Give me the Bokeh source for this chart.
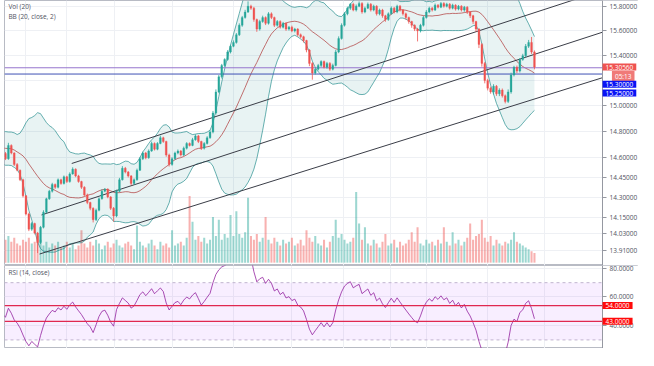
import numpy as np
from bokeh.plotting import figure
from bokeh.layouts import column
from bokeh.models import Range1d, FixedTicker, PrintfTickFormatter, Label, LinearScale
from bokeh.embed import file_html
from bokeh.resources import INLINE

# ---------------- data ----------------
hist_close = [14.68, 14.72, 14.66, 14.75, 14.79, 14.71, 14.64, 14.69, 14.77, 14.73,
              14.67, 14.58, 14.63, 14.72, 14.68, 14.61, 14.55, 14.60, 14.67, 14.63]
first_open = 14.630
close = [
    14.590, 14.692, 14.634, 14.547, 14.503, 14.431, 14.310, 14.175, 14.063, 14.105,
    14.035, 13.965, 14.077, 14.189, 14.288, 14.345, 14.396, 14.374, 14.431, 14.403,
    14.453, 14.417, 14.475, 14.511, 14.460, 14.417, 14.374, 14.317, 14.260, 14.217,
    14.133, 14.203, 14.288, 14.345, 14.359, 14.302, 14.217, 14.161, 14.345, 14.431,
    14.518, 14.489, 14.460, 14.403, 14.431, 14.503, 14.590, 14.634, 14.598, 14.649,
    14.707, 14.663, 14.707, 14.751, 14.722, 14.619, 14.547, 14.590, 14.634, 14.649,
    14.619, 14.671, 14.707, 14.692, 14.736, 14.765, 14.722, 14.671, 14.707, 14.751,
    14.795, 14.943, 15.108, 15.228, 15.319, 15.366, 15.427, 15.473, 15.504, 15.566,
    15.643, 15.706, 15.752, 15.800, 15.784, 15.690, 15.612, 15.674, 15.706, 15.659,
    15.737, 15.706, 15.643, 15.674, 15.628, 15.659, 15.612, 15.628, 15.597, 15.612,
    15.566, 15.550, 15.519, 15.442, 15.335, 15.258, 15.289, 15.319, 15.350, 15.304,
    15.335, 15.289, 15.319, 15.427, 15.535, 15.643, 15.737, 15.784, 15.816, 15.768,
    15.800, 15.823, 15.752, 15.784, 15.816, 15.768, 15.800, 15.737, 15.768, 15.721,
    15.690, 15.737, 15.784, 15.752, 15.800, 15.768, 15.737, 15.706, 15.674, 15.643,
    15.612, 15.597, 15.643, 15.706, 15.752, 15.784, 15.768, 15.808, 15.792, 15.823,
    15.800, 15.816, 15.784, 15.808, 15.776, 15.800, 15.768, 15.792, 15.752, 15.721,
    15.674, 15.612, 15.488, 15.335, 15.198, 15.138, 15.108, 15.153, 15.093, 15.123,
    15.078, 15.033, 15.108, 15.243, 15.304, 15.274, 15.366, 15.396, 15.473, 15.504,
    15.427, 15.3056,
]
# wick lengths above / below the body, in thousandths of a lira
wick_up = [
    12, 20, 8, 6, 10, 5, 8, 6, 10, 12, 6, 8, 10, 14, 8, 10, 12, 6, 10, 8,
    10, 8, 12, 14, 6, 8, 6, 8, 10, 6, 8, 12, 10, 14, 10, 8, 6, 10, 12, 14,
    16, 10, 8, 6, 10, 12, 14, 10, 8, 12, 14, 8, 10, 16, 8, 6, 10, 12, 10, 12,
    8, 12, 10, 8, 14, 12, 8, 6, 10, 12, 14, 16, 20, 14, 12, 10, 14, 12, 16, 14,
    16, 14, 18, 40, 12, 10, 8, 14, 16, 10, 14, 12, 8, 12, 10, 12, 8, 10, 12, 10,
    8, 10, 8, 6, 8, 10, 14, 12, 10, 8, 12, 10, 14, 16, 18, 16, 14, 12, 10, 12,
    14, 16, 10, 12, 14, 10, 12, 8, 12, 10, 8, 12, 14, 10, 12, 10, 8, 10, 8, 6,
    8, 10, 12, 14, 16, 12, 10, 14, 10, 12, 10, 12, 10, 12, 8, 10, 8, 10, 8, 6,
    8, 6, 8, 10, 12, 14, 12, 16, 10, 14, 12, 10, 20, 18, 12, 14, 12, 16, 18, 20,
    44, 12,
]
wick_dn = [
    10, 8, 10, 12, 8, 10, 12, 10, 14, 12, 10, 76, 10, 8, 10, 8, 10, 12, 8, 10,
    8, 10, 8, 6, 10, 8, 12, 10, 12, 14, 20, 10, 8, 6, 8, 10, 12, 42, 10, 8,
    6, 10, 12, 14, 10, 8, 6, 10, 12, 8, 6, 10, 8, 6, 10, 14, 16, 10, 8, 10,
    12, 8, 10, 8, 6, 8, 12, 14, 10, 8, 8, 10, 12, 10, 14, 12, 10, 12, 8, 10,
    10, 12, 8, 8, 14, 18, 22, 12, 10, 14, 10, 12, 14, 10, 12, 10, 14, 12, 10, 12,
    14, 12, 16, 18, 22, 53, 12, 10, 14, 10, 12, 14, 10, 8, 10, 8, 10, 12, 14, 10,
    12, 8, 14, 10, 8, 12, 10, 14, 12, 16, 18, 10, 8, 12, 10, 12, 14, 16, 18, 20,
    16, 85, 12, 10, 8, 10, 12, 8, 10, 8, 12, 10, 12, 10, 12, 10, 12, 14, 16, 18,
    20, 22, 30, 26, 22, 18, 14, 20, 16, 18, 14, 15, 12, 14, 12, 16, 12, 10, 12, 14,
    16, 18,
]
volume = [
    24, 28, 22, 26, 20, 18, 24, 22, 26, 20, 22, 28, 24, 18, 22, 16, 20, 18, 22, 16,
    18, 22, 16, 20, 14, 18, 34, 20, 16, 22, 18, 24, 20, 14, 18, 22, 16, 20, 24, 18,
    16, 20, 22, 18, 14, 39, 22, 18, 16, 20, 24, 18, 14, 22, 18, 20, 16, 34, 18, 20,
    22, 18, 26, 70, 43, 24, 28, 22, 26, 20, 24, 48, 28, 45, 24, 30, 26, 50, 28, 54,
    30, 26, 32, 68, 28, 24, 30, 22, 26, 48, 24, 20, 26, 22, 18, 24, 20, 22, 26, 18,
    20, 24, 18, 34, 26, 22, 28, 20, 18, 24, 16, 22, 28, 45, 26, 30, 24, 20, 22, 26,
    74, 41, 24, 37, 20, 18, 24, 20, 16, 22, 30, 18, 20, 24, 16, 22, 18, 20, 24, 32,
    22, 37, 20, 18, 24, 20, 22, 18, 24, 20, 37, 22, 18, 32, 20, 24, 18, 22, 26, 41,
    24, 28, 30, 45, 26, 22, 28, 18, 24, 20, 18, 22, 20, 24, 32, 22, 20, 18, 16, 14,
    12, 10,
]
price_ticks = [13.91, 14.03, 14.15, 14.30, 14.45, 14.60, 14.80, 15.00, 15.40, 15.60, 15.80]
grid_prices = price_ticks + [15.20]
rsi_ticks = [80, 60, 40]
day_breaks = [6.7, 21.0, 37.3, 57.3, 78.0, 98.0, 115.7, 131.7, 144.0, 165.0, 184.3]
# trend channel anchors (bar index, price)
chan_x0 = [11.67, 12.33, 22.67]
chan_p0 = [13.882, 14.168, 14.554]
chan_x1 = [204.3, 204.3, 204.3]
chan_p1 = [15.221, 15.587, 15.930]
level_prices = [15.30, 15.25]
level_colors = ["#9575cd", "#3f51b5"]
last_price = 15.3056
countdown = "05:13"
rsi_levels = [54, 43]
rsi_band = [30, 70]

# ---------------- derived ----------------
n = len(close)
idx = np.arange(n)
c = np.array(close)
o = np.concatenate([[first_open], c[:-1]])
hi = np.maximum(o, c) + np.array(wick_up) / 1000.0
lo = np.minimum(o, c) - np.array(wick_dn) / 1000.0
up = c >= o
UP, DN = "#26a69a", "#ef5350"
col = np.where(up, UP, DN)

allc = np.array(hist_close + close)
H = len(hist_close)
mid = np.full(len(allc), np.nan); sd = np.full(len(allc), np.nan)
for k in range(19, len(allc)):
    w = allc[k - 19:k + 1]
    mid[k] = w.mean(); sd[k] = w.std()
bb_x = np.arange(-1, n)
bb_mid = mid[H - 1:]; bb_up = (mid + 2 * sd)[H - 1:]; bb_lo = (mid - 2 * sd)[H - 1:]
d = np.diff(allc)
g = np.clip(d, 0, None); l_ = np.clip(-d, 0, None)
ag = np.full(len(d), np.nan); al = np.full(len(d), np.nan)
ag[13] = g[:14].mean(); al[13] = l_[:14].mean()
for k in range(14, len(d)):
    ag[k] = (ag[k - 1] * 13 + g[k]) / 14
    al[k] = (al[k - 1] * 13 + l_[k]) / 14
rsi_all = 100 - 100 / (1 + ag / al)
rsi_x = np.arange(len(d)) + 1 - H
mask = rsi_x >= -1
rsi_x = rsi_x[mask]; rsi = rsi_all[mask]

FONT = "Open Sans"
TXT = "#50535e"
AX = "#9598a1"
GRID = "#eef0f4"

X0, AXIS_X, X1 = -0.333, 204.3, 216.6   # left edge, price-scale line, right edge
xr = Range1d(X0, X1)
PLO, PHI = 13.799, 15.847
RLO, RHI = 24, 82

def make(height, yr, log):
    p = figure(frame_width=634, frame_height=height, x_range=xr, y_range=yr,
               y_axis_type="log" if log else "linear", y_axis_location="right",
               x_axis_location=None, toolbar_location=None, output_backend="svg",
               min_border_left=4, min_border_right=0, min_border_top=0, min_border_bottom=0)
    p.outline_line_color = "#b8bbc4"
    p.background_fill_color = "white"
    p.border_fill_color = "white"
    p.xgrid.ticker = FixedTicker(ticks=day_breaks)
    p.xgrid.grid_line_color = GRID
    p.ygrid.grid_line_color = GRID
    return p

def style_axis(p, ticks, fmt):
    ax = p.yaxis[0]
    ax.fixed_location = AXIS_X
    ax.ticker = FixedTicker(ticks=ticks)
    ax.formatter = PrintfTickFormatter(format=fmt)
    ax.major_label_text_font = FONT
    ax.major_label_text_font_size = "6.5px"
    ax.major_label_text_color = TXT
    ax.axis_line_color = AX
    ax.major_tick_line_color = AX
    ax.major_tick_out = 4
    ax.major_tick_in = 0
    ax.minor_tick_line_color = None
    ax.major_label_standoff = 3

def tag(p, y, text, bg, off=0, right=False):
    if right:
        kw = dict(x=X1, x_offset=-4, text_align="right")
    else:
        kw = dict(x=AXIS_X, x_offset=0, text_align="left")
    p.add_layout(Label(y=y, y_offset=off, text=text, text_font=FONT,
                       text_font_size="6.5px", text_color="white", text_baseline="middle",
                       background_fill_color=bg, padding=(3, 1), level="overlay", **kw))

# ---------------- main pane ----------------
p1 = make(265, Range1d(PLO, PHI), True)
style_axis(p1, price_ticks, "%.5f")
p1.ygrid.ticker = FixedTicker(ticks=grid_prices)
p1.extra_y_ranges = {"vol": Range1d(-3, 275)}
p1.extra_y_scales = {"vol": LinearScale()}
# blank price-scale strip (hides grid there)
p1.quad(left=AXIS_X, right=X1, bottom=PLO, top=PHI, fill_color="white", line_color=None)

p1.vbar(x=idx, top=volume, bottom=0, width=0.7, fill_color=col, line_color=None,
        fill_alpha=0.45, y_range_name="vol")
p1.varea(x=bb_x, y1=bb_lo, y2=bb_up, fill_color="#198787", fill_alpha=0.1)
p1.line(bb_x, bb_up, line_color="#138484", line_width=0.8, line_alpha=0.8)
p1.line(bb_x, bb_lo, line_color="#138484", line_width=0.8, line_alpha=0.8)
p1.line(bb_x, bb_mid, line_color="#b03a3a", line_width=0.8, line_alpha=0.9)
for lp, lc in zip(level_prices, level_colors):
    p1.line([X0, AXIS_X], [lp, lp], line_color=lc, line_width=1)
for x0, p0, x1, pp in zip(chan_x0, chan_p0, chan_x1, chan_p1):
    p1.line([x0, x1], [p0, pp], line_color="#3a3d47", line_width=1)
p1.segment(x0=idx, y0=lo, x1=idx, y1=hi, line_color=col, line_width=0.8)
p1.vbar(x=idx, top=np.maximum(o, c), bottom=np.minimum(o, c), width=0.62,
        fill_color=col, line_color=col, line_width=0.3)

for txt, off in [("Vol (20)", -6), ("BB (20, close, 2)", -15.5)]:
    p1.add_layout(Label(x=1, y=PHI, y_offset=off, text=txt, text_font=FONT,
                        text_font_size="6.5px", text_color=TXT, text_baseline="middle"))

tag(p1, last_price, "%.5f" % last_price, "#ef5350", 0)
tag(p1, last_price, countdown, "#f07a78", -9.5, right=True)
tag(p1, level_prices[0], "%.5f" % level_prices[0], "#0a14f5", -16.5)
tag(p1, level_prices[1], "%.5f" % level_prices[1], "#0a14f5", -19)

# ---------------- RSI pane ----------------
p2 = make(83, Range1d(RLO, RHI), False)
style_axis(p2, rsi_ticks, "%.4f")
p2.ygrid.ticker = FixedTicker(ticks=rsi_ticks)
p2.quad(left=AXIS_X, right=X1, bottom=RLO, top=RHI, fill_color="white", line_color=None)
p2.varea(x=[X0, AXIS_X], y1=[rsi_band[0]] * 2, y2=[rsi_band[1]] * 2,
         fill_color="#9915ff", fill_alpha=0.07)
for b in rsi_band:
    p2.line([X0, AXIS_X], [b, b], line_color="#c0b3cf", line_dash="3 3", line_width=1)
p2.line(rsi_x, rsi, line_color="#8e1599", line_width=1, line_alpha=0.75)
for lv in rsi_levels:
    p2.line([X0, AXIS_X], [lv, lv], line_color="#e0284f", line_width=1.3)
    tag(p2, lv, "%.4f" % lv, "#ff0a0a", 0)
p2.add_layout(Label(x=1, y=RHI, y_offset=-7, text="RSI (14, close)", text_font=FONT,
                    text_font_size="6.5px", text_color=TXT, text_baseline="middle"))

layout = column(p1, p2, spacing=0)
open("out.html", "w").write(file_html(layout, INLINE))
